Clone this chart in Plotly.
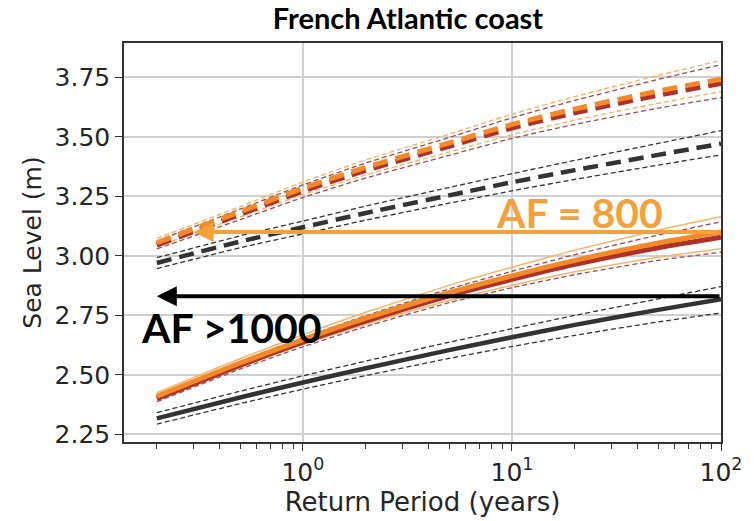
import plotly.graph_objects as go
import numpy as np

# Return periods (years)
return_period = [0.2, 0.5, 1, 2, 5, 10, 20, 50, 100]

# Scenario A (dashed): orange and red central estimates with bounds
orange_dash = [3.055, 3.185, 3.284, 3.372, 3.474, 3.552, 3.617, 3.692, 3.742]
orange_dash_hi = [3.073, 3.207, 3.310, 3.403, 3.511, 3.595, 3.669, 3.758, 3.821]
orange_dash_lo = [3.039, 3.163, 3.257, 3.340, 3.436, 3.509, 3.570, 3.641, 3.690]
red_dash = [3.045, 3.174, 3.272, 3.359, 3.460, 3.537, 3.601, 3.675, 3.724]
red_dash_hi = [3.063, 3.196, 3.298, 3.390, 3.497, 3.580, 3.653, 3.741, 3.803]
red_dash_lo = [3.029, 3.152, 3.245, 3.327, 3.422, 3.493, 3.552, 3.620, 3.665]

# Reference (dashed, black)
black_dash = [2.970, 3.060, 3.120, 3.180, 3.254, 3.309, 3.360, 3.424, 3.471]
black_dash_hi = [2.992, 3.084, 3.146, 3.209, 3.287, 3.345, 3.401, 3.472, 3.526]
black_dash_lo = [2.946, 3.034, 3.092, 3.150, 3.221, 3.273, 3.321, 3.381, 3.424]

# Scenario B (solid): orange and red central estimates with bounds
orange_solid = [2.410, 2.550, 2.648, 2.738, 2.845, 2.916, 2.981, 3.054, 3.100]
orange_solid_hi = [2.425, 2.568, 2.669, 2.763, 2.876, 2.952, 3.024, 3.108, 3.164]
orange_solid_lo = [2.395, 2.532, 2.627, 2.712, 2.812, 2.876, 2.933, 2.994, 3.030]
red_solid = [2.400, 2.540, 2.637, 2.726, 2.832, 2.901, 2.964, 3.034, 3.078]
red_solid_hi = [2.413, 2.556, 2.656, 2.749, 2.861, 2.935, 3.005, 3.087, 3.143]
red_solid_lo = [2.387, 2.524, 2.618, 2.703, 2.803, 2.866, 2.921, 2.981, 3.015]

# Reference (solid, black)
black_solid = [2.317, 2.405, 2.468, 2.528, 2.604, 2.658, 2.710, 2.773, 2.818]
black_solid_hi = [2.341, 2.431, 2.496, 2.558, 2.637, 2.694, 2.750, 2.819, 2.871]
black_solid_lo = [2.293, 2.379, 2.440, 2.497, 2.569, 2.619, 2.666, 2.722, 2.760]

# Amplification-factor arrows: (level, target return period)
af800_level, af800_target = 3.10, 0.3
af1000_level, af1000_target = 2.83, 0.2

y_ticks = [2.25, 2.50, 2.75, 3.00, 3.25, 3.50, 3.75]
x_ticks = [1, 10, 100]
x_tick_text = ["10<sup>0</sup>", "10<sup>1</sup>", "10<sup>2</sup>"]
x_minor_ticks = [round(m * d, 3) for d in (0.1, 1, 10) for m in range(2, 10)]

X_RANGE = [-0.856, 2.0]
Y_RANGE = [2.218, 3.894]

ORANGE = "#F28A2A"
RED = "#B0312A"
LIGHT_ORANGE = "#F6B466"
RED_THIN = "#9E4A55"
BLACK = "#333333"
ARROW_ORANGE = "#F5A03A"
TEXT = "#262626"

fig = go.Figure()


def line(y, color, width, dash="solid"):
    fig.add_trace(go.Scatter(
        x=return_period, y=y, mode="lines",
        line=dict(color=color, width=width, dash=dash, shape="spline", smoothing=0.6),
        showlegend=False, hoverinfo="skip"))


THIN_DASH = "5px,3px"
THICK_DASH = "15px,8px"

# black solid group
line(black_solid_hi, BLACK, 1.3, THIN_DASH)
line(black_solid_lo, BLACK, 1.3, THIN_DASH)
line(black_solid, BLACK, 4.5)

# black dashed group
line(black_dash_hi, BLACK, 1.3, THIN_DASH)
line(black_dash_lo, BLACK, 1.3, THIN_DASH)
line(black_dash, BLACK, 4.5, THICK_DASH)

# orange/red solid group
line(orange_solid_hi, LIGHT_ORANGE, 1.5)
line(orange_solid_lo, LIGHT_ORANGE, 1.5)
line(red_solid_hi, RED_THIN, 1.3, THIN_DASH)
line(red_solid_lo, RED_THIN, 1.3, THIN_DASH)
line(red_solid, RED, 5)
line(orange_solid, ORANGE, 5)

# orange/red dashed group
line(orange_dash_hi, LIGHT_ORANGE, 1.4, THIN_DASH)
line(orange_dash_lo, LIGHT_ORANGE, 1.4, THIN_DASH)
line(red_dash_hi, RED_THIN, 1.3, THIN_DASH)
line(red_dash_lo, RED_THIN, 1.3, THIN_DASH)
line(red_dash, RED, 5, THICK_DASH)
line(orange_dash, ORANGE, 5, THICK_DASH)

# arrows
fig.add_annotation(x=np.log10(af800_target), y=af800_level, ax=np.log10(100), ay=af800_level,
                   xref="x", yref="y", axref="x", ayref="y", text="", showarrow=True,
                   arrowhead=2, arrowsize=1, arrowwidth=4, arrowcolor=ARROW_ORANGE)
fig.add_annotation(x=np.log10(af1000_target), y=af1000_level, ax=np.log10(100), ay=af1000_level,
                   xref="x", yref="y", axref="x", ayref="y", text="", showarrow=True,
                   arrowhead=2, arrowsize=1, arrowwidth=4, arrowcolor="#000000")

fig.add_annotation(x=0.913, y=3.18, xref="x", yref="y", text="<b>AF = 800</b>",
                   showarrow=False, xanchor="left", yanchor="middle",
                   font=dict(family="Lato", size=41, color=ARROW_ORANGE))
fig.add_annotation(x=-0.786, y=2.70, xref="x", yref="y", text="<b>AF >1000</b>",
                   showarrow=False, xanchor="left", yanchor="middle",
                   font=dict(family="Lato", size=41, color="#000000"))

fig.update_layout(
    width=754, height=521,
    margin=dict(l=124, r=23, t=43, b=73),
    paper_bgcolor="white", plot_bgcolor="white",
    title=dict(text="<b>French Atlantic coast</b>", x=408 / 754, xref="container", xanchor="center",
               y=1 - 19 / 521, yref="container", yanchor="middle",
               font=dict(family="Lato", size=29, color="#000000")),
    font=dict(family="DejaVu Sans", color=TEXT),
)

fig.update_xaxes(
    type="log", range=X_RANGE,
    tickmode="array", tickvals=x_ticks, ticktext=x_tick_text,
    tickfont=dict(size=25, family="DejaVu Sans", color=TEXT),
    ticks="outside", ticklen=7, tickwidth=1.3, tickcolor=BLACK,
    minor=dict(tickmode="array", tickvals=x_minor_ticks, ticks="outside",
               ticklen=5, tickwidth=1.2, tickcolor=BLACK, showgrid=False),
    showgrid=True, gridcolor="#CFCFCF", gridwidth=1.5,
    showline=True, linecolor=BLACK, linewidth=1.5, mirror=True,
    zeroline=False,
    title=dict(text="Return Period (years)", font=dict(size=26, family="DejaVu Sans", color=TEXT),
               standoff=4),
)
fig.update_yaxes(
    range=Y_RANGE,
    tickvals=y_ticks, tickformat=".2f",
    tickfont=dict(size=25, family="DejaVu Sans", color=TEXT),
    ticks="outside", ticklen=7, tickwidth=1.3, tickcolor=BLACK,
    showgrid=True, gridcolor="#CFCFCF", gridwidth=1.5,
    showline=True, linecolor=BLACK, linewidth=1.5, mirror=True,
    zeroline=False,
    title=dict(text="Sea Level (m)", font=dict(size=25, family="DejaVu Sans", color=TEXT),
               standoff=6),
)

fig.write_html("out.html")
